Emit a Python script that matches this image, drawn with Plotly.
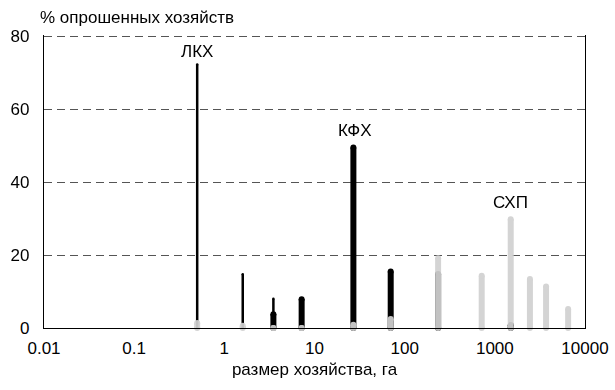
import math
import plotly.graph_objects as go

# ---- data ----
sizes = [0.5, 1.6, 3.5, 7.2, 27, 70, 235, 715, 1500, 2450, 3700, 6500]
lkh = [72.2, 14.7, 8.0, None, None, None, None, None, None, None, None, None]
kfh = [None, None, 3.8, 7.9, 49.5, 15.5, 14.8, None, 0.8, None, None, None]
shp = [1.4, 0.6, 0, 0, 0.9, 2.5, 19.1, 14.3, 29.8, 13.4, 11.4, 5.2]

labels = ["ЛКХ", "КФХ", "СХП"]
label_x = [0.5, 28, 1500]
label_y = [75.7, 54.1, 34.3]

xtick_vals = [0.01, 0.1, 1, 10, 100, 1000, 10000]
xtick_text = ["0.01", "0.1", "1", "10", "100", "1000", "10000"]
ytick_vals = [0, 20, 40, 60, 80]

FONT = "Liberation Sans, Arial, sans-serif"


def segs(xs, vals):
    X, Y = [], []
    for x, v in zip(xs, vals):
        if v is None:
            continue
        X += [x, x, None]
        Y += [0, v, None]
    return X, Y


fig = go.Figure()
series = [
    (lkh, "#000000", 2.5, 1.0),
    (kfh, "#000000", 6, 1.0),
    (shp, "rgb(209,209,209)", 6, 0.93),
]
for vals, col, w, op in series:
    X, Y = segs(sizes, vals)
    fig.add_trace(go.Scatter(
        x=X, y=Y, mode="lines+markers",
        line=dict(color=col, width=w),
        marker=dict(color=col, size=w, line=dict(width=0)),
        opacity=op, cliponaxis=False, showlegend=False, hoverinfo="skip",
    ))

for t, x, y in zip(labels, label_x, label_y):
    fig.add_annotation(x=math.log10(x), y=y, xref="x", yref="y", text=t, showarrow=False,
                       font=dict(family=FONT, size=17, color="#000"))

fig.add_annotation(x=0, y=1, xref="paper", yref="paper", xanchor="left", yanchor="bottom",
                   xshift=-6, yshift=6,
                   text="% опрошенных хозяйств", showarrow=False,
                   font=dict(family=FONT, size=17, color="#000"))

fig.update_xaxes(type="log", range=[-2, 4], tickvals=xtick_vals, ticktext=xtick_text,
                 showgrid=False, showline=True, linecolor="#000", linewidth=1.3,
                 ticks="", ticklabelstandoff=4, zeroline=False, automargin=False,
                 tickfont=dict(family=FONT, size=17, color="#000"),
                 title=dict(text="размер хозяйства, га", standoff=6,
                            font=dict(family=FONT, size=17, color="#000")))
fig.update_yaxes(range=[0, 80.3], tickvals=ytick_vals, showgrid=True,
                 gridcolor="#555555", griddash="8px,5px", gridwidth=1.2,
                 showline=True, mirror=True, linecolor="#000", linewidth=1.3,
                 ticks="", ticklabelstandoff=10, zeroline=False, automargin=False,
                 tickfont=dict(family=FONT, size=17, color="#000"))

fig.update_layout(width=615, height=390, autosize=False,
                  margin=dict(l=44, r=30, t=35, b=62),
                  plot_bgcolor="white", paper_bgcolor="white")

fig.write_html("out.html")
